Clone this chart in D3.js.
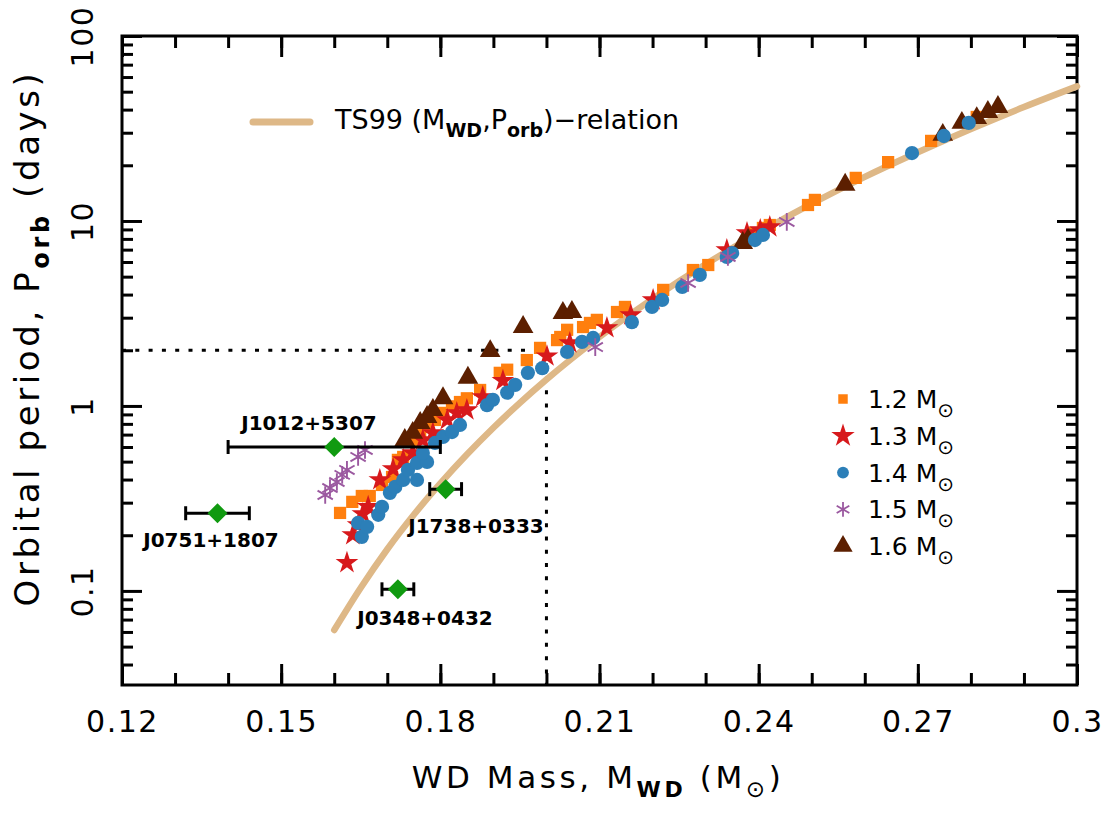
<!DOCTYPE html>
<html>
<head>
<meta charset="utf-8">
<script src="https://cdn.jsdelivr.net/npm/d3@7"></script>
<style>
  body { margin: 0; background: #fff; }
  text { font-family: "DejaVu Sans", sans-serif; }
</style>
</head>
<body>
<script>
// TS99 relation
const curveM = [0.16, 0.165, 0.17, 0.175, 0.18, 0.185, 0.19, 0.195, 0.2, 0.21, 0.22, 0.23, 0.24, 0.25, 0.26, 0.27, 0.28, 0.29, 0.3];
const curveP = [0.0614, 0.104, 0.168, 0.258, 0.381, 0.546, 0.762, 1.04, 1.39, 2.36, 3.79, 5.83, 8.63, 12.4, 17.3, 23.5, 31.4, 41.3, 53.4];

// model points [M_WD, P_orb] per neutron star mass
const ns12 = [[0.1611,0.264],[0.1634,0.303],[0.1652,0.326],[0.1667,0.326],[0.1690,0.374],[0.1709,0.413],[0.1720,0.511],[0.1730,0.530],
  [0.1748,0.655],[0.1762,0.715],[0.1775,0.770],[0.1790,0.840],[0.1805,0.917],[0.1822,0.995],[0.1837,1.05],[0.1850,1.10],[0.1875,1.22],
  [0.1912,1.51],[0.1926,1.57],[0.1963,1.77],[0.1988,2.06],[0.2020,2.27],[0.2026,2.36],[0.2039,2.58],[0.2069,2.67],[0.2082,2.81],[0.2095,2.92],
  [0.2133,3.22],[0.2148,3.43],[0.2220,4.24],[0.2276,5.43],[0.2305,5.78],[0.2389,8.61],[0.2408,9.17],[0.2421,9.51],[0.2493,12.2],
  [0.2506,13.0],[0.2583,17.1],[0.2644,20.8],[0.2725,27.1],[0.2811,36.5]];
const ns13 = [[0.1624,0.142],[0.1635,0.201],[0.1645,0.227],[0.1654,0.261],[0.1664,0.285],[0.1686,0.398],[0.1711,0.457],[0.1730,0.511],
  [0.1748,0.557],[0.1767,0.655],[0.1786,0.715],[0.1813,0.840],[0.1831,0.917],[0.1850,0.951],[0.1880,1.12],[0.1918,1.37],[0.2001,1.86],
  [0.2044,2.19],[0.2114,2.64],[0.2159,3.10],[0.2201,3.74],[0.2340,6.97],[0.2378,8.61],[0.2403,8.94],[0.2421,9.28]];
const ns14 = [[0.1652,0.196],[0.1645,0.233],[0.1662,0.222],[0.1683,0.258],[0.1690,0.285],[0.1705,0.339],[0.1715,0.365],[0.1730,0.398],
  [0.1756,0.398],[0.1739,0.451],[0.1756,0.492],[0.1775,0.498],[0.1767,0.557],[0.1790,0.631],[0.1805,0.680],[0.1822,0.723],[0.1837,0.789],
  [0.1888,1.01],[0.1899,1.08],[0.1926,1.18],[0.1941,1.30],[0.1965,1.51],[0.1992,1.60],[0.2039,1.96],[0.2067,2.22],[0.2088,2.33],
  [0.2161,2.84],[0.2199,3.43],[0.2218,3.74],[0.2256,4.40],[0.2289,5.11],[0.2340,6.39],[0.2350,6.71],[0.2393,7.89],[0.2408,8.40],
  [0.2689,23.3],[0.2749,28.8],[0.2796,33.9]];
const ns15 = [[0.1583,0.330],[0.1592,0.360],[0.1605,0.388],[0.1615,0.424],[0.1624,0.451],[0.1645,0.530],[0.1658,0.578],
  [0.2092,2.08],[0.2267,4.62],[0.2342,6.39],[0.2453,9.88]];
const ns16 = [[0.1733,0.655],[0.1748,0.715],[0.1762,0.809],[0.1775,0.872],[0.1786,0.951],[0.1805,1.10],[0.1852,1.42],[0.1894,1.98],
  [0.1956,2.67],[0.2031,3.18],[0.2048,3.22],[0.2370,7.60],[0.2380,7.89],[0.2563,15.7],[0.2747,29.2],[0.2783,33.9],[0.2811,36.0],
  [0.2832,38.8],[0.2851,41.3]];

// observed pulsars
const psrNames = ["J1012+5307", "J0751+1807", "J1738+0333", "J0348+0432"];
const psrM = [0.160, 0.138, 0.181, 0.172];
const psrP = [0.60, 0.263, 0.355, 0.102];
const psrLo = [0.140, 0.132, 0.178, 0.169];
const psrHi = [0.180, 0.144, 0.184, 0.175];

const legendNS = ["1.2", "1.3", "1.4", "1.5", "1.6"];
const xTickValues = [0.12, 0.15, 0.18, 0.21, 0.24, 0.27, 0.30];
const xTickLabels = ["0.12", "0.15", "0.18", "0.21", "0.24", "0.27", "0.3"];
const yTickValues = [0.1, 1, 10, 100];
const yTickLabels = ["0.1", "1", "10", "100"];

let margin = { top: 36, right: 31, bottom: 145, left: 122 },
    width = 1108 - margin.left - margin.right,
    height = 830 - margin.top - margin.bottom;

let svg0 = d3.select("body").append("svg")
    .attr("width", 1108)
    .attr("height", 830)
    .style("display", "block");

let svg = svg0.append("g")
    .attr("transform", "translate(" + margin.left + "," + margin.top + ")");

let x = d3.scaleLinear().domain([0.12, 0.30]).range([0, width]);
let y = d3.scaleLog().domain([0.031, 100]).range([height, 0]);

// minor ticks
let minorX = d3.range(12, 31).map(d => d / 100);
let minorY = [];
[0.01, 0.1, 1, 10].forEach(dec => {
    for (let k = 2; k <= 9; k++) {
        let v = k * dec;
        if (v >= 0.031 && v < 100) minorY.push(v);
    }
});

function styleAxis(g) {
    g.select(".domain").remove();
    g.selectAll("line").attr("stroke", "#000").attr("stroke-width", 3);
}

// bottom
svg.append("g").attr("transform", "translate(0," + height + ")")
    .call(d3.axisBottom(x).tickValues(minorX).tickSize(-12).tickFormat(""))
    .call(styleAxis);
svg.append("g").attr("transform", "translate(0," + height + ")")
    .call(d3.axisBottom(x).tickValues(xTickValues).tickSize(-21).tickPadding(26)
        .tickFormat((d, i) => xTickLabels[i]))
    .call(styleAxis)
    .call(g => g.selectAll("text").attr("fill", "#000").style("font-size", "30px")
        .style("letter-spacing", "1.5px").style("font-family", "DejaVu Sans"));
// top
svg.append("g")
    .call(d3.axisTop(x).tickValues(minorX).tickSize(-12).tickFormat(""))
    .call(styleAxis);
svg.append("g")
    .call(d3.axisTop(x).tickValues(xTickValues).tickSize(-21).tickFormat(""))
    .call(styleAxis);
// left
svg.append("g")
    .call(d3.axisLeft(y).tickValues(minorY).tickSize(-11).tickFormat(""))
    .call(styleAxis);
svg.append("g")
    .call(d3.axisLeft(y).tickValues(yTickValues).tickSize(-20).tickFormat((d, i) => yTickLabels[i]))
    .call(styleAxis)
    .call(g => g.selectAll("text")
        .attr("fill", "#000")
        .attr("transform", "rotate(-90)")
        .attr("x", 0).attr("y", -29).attr("dy", null)
        .attr("text-anchor", "middle")
        .style("font-size", "30px").style("letter-spacing", "1.5px")
        .style("font-family", "DejaVu Sans"));
// right
svg.append("g").attr("transform", "translate(" + width + ",0)")
    .call(d3.axisRight(y).tickValues(minorY).tickSize(-11).tickFormat(""))
    .call(styleAxis);
svg.append("g").attr("transform", "translate(" + width + ",0)")
    .call(d3.axisRight(y).tickValues(yTickValues).tickSize(-20).tickFormat(""))
    .call(styleAxis);

// frame
svg.append("rect")
    .attr("x", 0).attr("y", 0)
    .attr("width", width).attr("height", height)
    .attr("fill", "none").attr("stroke", "#000").attr("stroke-width", 3);

// dotted guide lines (P = 2 d, M = 0.2)
svg.append("line")
    .attr("x1", x(0.12)).attr("x2", x(0.2))
    .attr("y1", y(2)).attr("y2", y(2))
    .attr("stroke", "#000").attr("stroke-width", 3).attr("stroke-dasharray", "4,9.3");
svg.append("line")
    .attr("x1", x(0.2)).attr("x2", x(0.2))
    .attr("y1", y(2)).attr("y2", height)
    .attr("stroke", "#000").attr("stroke-width", 3).attr("stroke-dasharray", "4,9.3");

// TS99 curve
let line = d3.line()
    .x(d => x(d[0]))
    .y(d => y(d[1]))
    .curve(d3.curveMonotoneX);
svg.append("path")
    .datum(curveM.map((m, i) => [m, curveP[i]]))
    .attr("d", line)
    .attr("fill", "none")
    .attr("stroke", "#deb887")
    .attr("stroke-width", 6.5)
    .attr("stroke-linecap", "round");

// series
const series = [
    { data: ns12, type: d3.symbolSquare, size: 150, color: "#ff7f0e", stroke: false, lsize: 90 },
    { data: ns13, type: d3.symbolStar, size: 160, color: "#d7191c", stroke: false, lsize: 170 },
    { data: ns16, type: d3.symbolTriangle, size: 185, color: "#5c1f00", stroke: false, lsize: 160 },
    { data: ns14, type: d3.symbolCircle, size: 160, color: "#2c7fb8", stroke: false, lsize: 110 },
    { data: ns15, type: d3.symbolAsterisk, size: 220, color: "#9b59a0", stroke: true, lsize: 150 }
];

series.forEach(s => {
    svg.append("g")
        .selectAll("path")
        .data(s.data)
        .enter()
        .append("path")
        .attr("transform", d => "translate(" + x(d[0]) + "," + y(d[1]) + ")")
        .attr("d", d3.symbol(s.type, s.size))
        .attr("fill", s.stroke ? "none" : s.color)
        .attr("stroke", s.stroke ? s.color : "none")
        .attr("stroke-width", 1.9);
});

// pulsars with error bars
let psr = svg.append("g");
psrNames.forEach((name, i) => {
    let yy = y(psrP[i]);
    psr.append("line")
        .attr("x1", x(psrLo[i])).attr("x2", x(psrHi[i]))
        .attr("y1", yy).attr("y2", yy)
        .attr("stroke", "#000").attr("stroke-width", 3);
    [psrLo[i], psrHi[i]].forEach(v => {
        psr.append("line")
            .attr("x1", x(v)).attr("x2", x(v))
            .attr("y1", yy - 7).attr("y2", yy + 7)
            .attr("stroke", "#000").attr("stroke-width", 3);
    });
    psr.append("path")
        .attr("transform", "translate(" + x(psrM[i]) + "," + yy + ") rotate(45)")
        .attr("d", d3.symbol(d3.symbolSquare, 200))
        .attr("fill", "#109a10");
});

// pulsar labels
const psrLabelX = [309, 211, 476, 425];
const psrLabelY = [430, 547, 533, 625];
psrNames.forEach((name, i) => {
    svg0.append("text")
        .attr("x", psrLabelX[i]).attr("y", psrLabelY[i])
        .attr("text-anchor", "middle")
        .style("font-size", "20px").style("font-weight", "bold")
        .text(name);
});

// TS99 legend
svg0.append("line")
    .attr("x1", 253).attr("x2", 310).attr("y1", 122).attr("y2", 122)
    .attr("stroke", "#deb887").attr("stroke-width", 7).attr("stroke-linecap", "round");
let tl = svg0.append("text").attr("x", 335).attr("y", 129).style("font-size", "27px");
tl.append("tspan").text("TS99 (M");
tl.append("tspan").attr("dy", 8).style("font-size", "19px").style("font-weight", "bold").text("WD");
tl.append("tspan").attr("dy", -8).text(",P");
tl.append("tspan").attr("dy", 8).style("font-size", "19px").style("font-weight", "bold").text("orb");
tl.append("tspan").attr("dy", -8).text(")\u2212relation");

// NS mass legend
legendNS.forEach((lab, i) => {
    let cy = 399 + i * 36.8;
    let s = [series[0], series[1], series[3], series[4], series[2]][i];
    svg0.append("path")
        .attr("transform", "translate(843," + cy + ")")
        .attr("d", d3.symbol(s.type, s.lsize))
        .attr("fill", s.stroke ? "none" : s.color)
        .attr("stroke", s.stroke ? s.color : "none")
        .attr("stroke-width", 1.8);
    let t = svg0.append("text").attr("x", 868).attr("y", cy + 9).style("font-size", "25px");
    t.append("tspan").text(lab + " M");
    t.append("tspan").attr("dy", 9).style("font-size", "20px").text("\u2299");
});

// axis titles
let xt = svg0.append("text").attr("x", 598).attr("y", 788)
    .attr("text-anchor", "middle").style("font-size", "31px").style("letter-spacing", "3.6px");
xt.append("tspan").text("WD Mass, M");
xt.append("tspan").attr("dy", 9).style("font-size", "22px").style("font-weight", "bold").text("WD");
xt.append("tspan").attr("dy", -9).text(" (M");
xt.append("tspan").attr("dy", 9).style("font-size", "23px").text("\u2299");
xt.append("tspan").attr("dy", -9).text(")");

let yt = svg0.append("text")
    .attr("transform", "translate(39,338) rotate(-90)")
    .attr("text-anchor", "middle").style("font-size", "34px").style("letter-spacing", "3.6px");
yt.append("tspan").text("Orbital period, P");
yt.append("tspan").attr("dy", 10).style("font-size", "24px").style("font-weight", "bold").text("orb");
yt.append("tspan").attr("dy", -10).text(" (days)");
</script>
</body>
</html>
